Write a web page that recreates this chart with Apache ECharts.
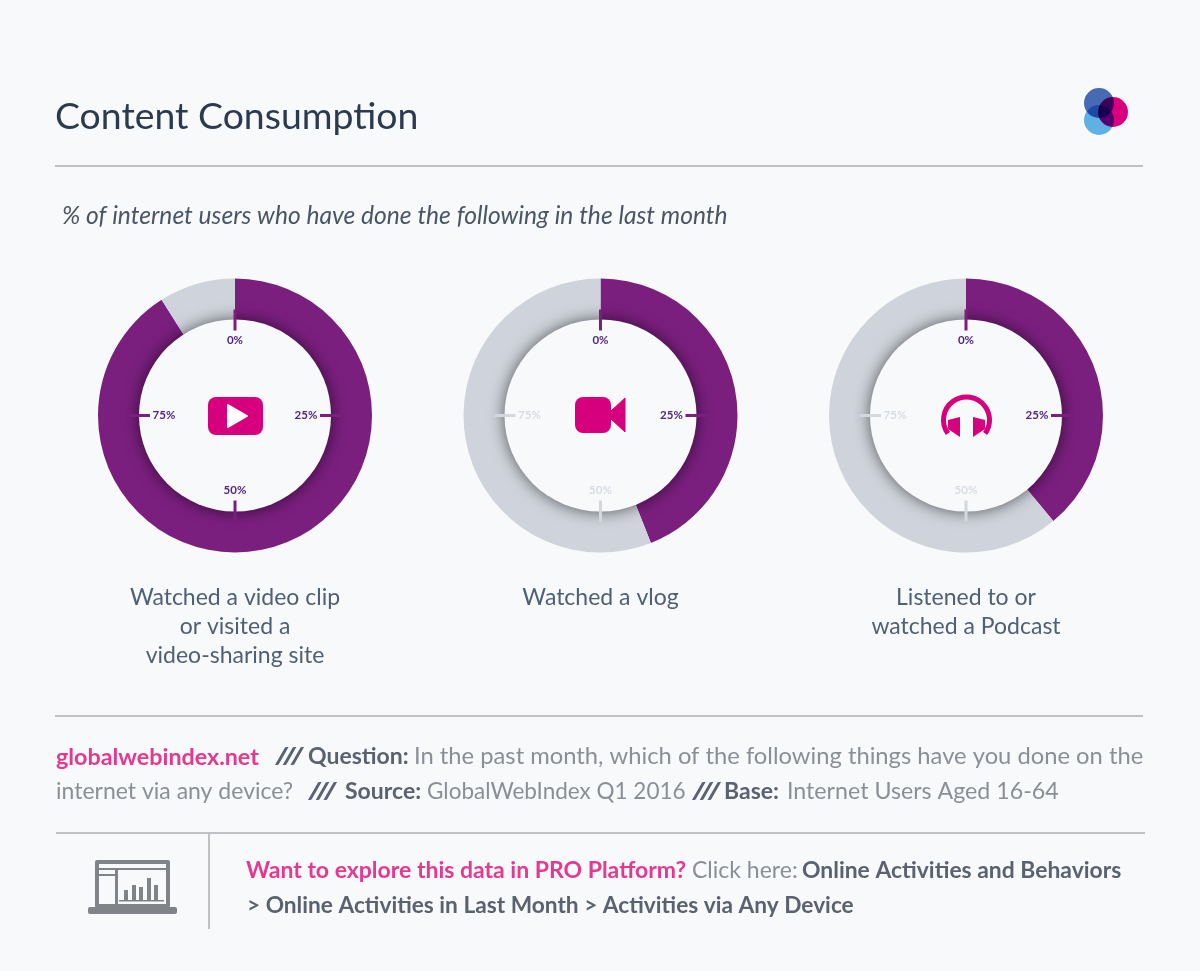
<!DOCTYPE html>
<html>
<head>
<meta charset="utf-8">
<style>
html,body{margin:0;padding:0;background:#f8f9fb}
#main{width:1200px;height:971px}
</style>
<script src="https://cdn.jsdelivr.net/npm/echarts@6/dist/echarts.min.js"></script>
</head>
<body>
<div id="main"></div>
<script>
var categories = [["Watched a video clip", "or visited a", "video-sharing site"], ["Watched a vlog"], ["Listened to or", "watched a Podcast"]];
var values = [91, 44, 39];
var tickValues = [0, 25, 50, 75];
var tickLabels = ["0%", "25%", "50%", "75%"];

var FONT = "Lato";
var BG = "#f8f9fb";
var PURPLE = "#7b1f7f";
var GREY = "#cfd4dc";
var PINK = "#d6007f";
var centers = [[235, 415.5], [600.5, 415.5], [966, 415.5]];
var R_IN = 96, R_OUT = 137;

var g = [];

function txt(x, y, s, size, color, weight, align, style, sx) {
  g.push({
    type: "text", x: x, y: y, z: 20, silent: true, scaleX: sx || 1,
    style: {
      text: s, fill: color, align: align || "left", verticalAlign: "middle",
      font: (style || "normal") + " " + (weight || "normal") + " " + size + "px " + FONT
    }
  });
}
function line(x1, y1, x2, y2, color, w, z) {
  g.push({ type: "line", z: z || 5, silent: true, shape: { x1: x1, y1: y1, x2: x2, y2: y2 }, style: { stroke: color, lineWidth: w } });
}
function rect(x, y, w, h, color, r) {
  g.push({ type: "rect", z: 20, silent: true, shape: { x: x, y: y, width: w, height: h, r: r || 0 }, style: { fill: color } });
}

// header
txt(55, 117, "Content Consumption", 37.4, "#2b3a4e");
line(55, 166, 1143, 166, "#bfc1c4", 2);
txt(62, 216, "% of internet users who have done the following in the last month", 24.6, "#4a5666", "normal", "left", "italic");

// logo
[[1099, 120, "#62b5e8"], [1113, 112, "#e0007f"], [1099, 103, "#4a6cb8"]].forEach(function (c) {
  g.push({ type: "circle", z: 20, silent: true, shape: { cx: c[0], cy: c[1], r: 15 }, style: { fill: c[2], blend: "multiply" } });
});

// centre disc, ticks and labels for each donut
centers.forEach(function (c, i) {
  g.push({
    type: "circle", z: 8, silent: true, shape: { cx: c[0], cy: c[1], r: R_IN },
    style: { fill: BG, shadowBlur: 16, shadowColor: "rgba(0,0,0,0.6)" }
  });
  tickValues.forEach(function (t, k) {
    var on = t <= values[i];
    var col = on ? PURPLE : "#d3d7de";
    var a = t / 100 * Math.PI * 2;
    var sx = Math.sin(a), cy = -Math.cos(a);
    line(c[0] + sx * 85, c[1] + cy * 85, c[0] + sx * 106, c[1] + cy * 106, col, 3, 9);
    txt(c[0] + sx * (k % 2 ? 71 : 0), c[1] + (k % 2 ? 0 : (k == 0 ? -75 : 75)), tickLabels[k], 11.5, on ? "#4f2683" : "#d8dce3", "bold", "center");
  });
  categories[i].forEach(function (s, n) {
    txt(c[0], 598 + n * 29, s, 23, "#4f6074", "normal", "center");
  });
});

// youtube icon
rect(208, 397, 55, 38, PINK, 8);
g.push({ type: "polygon", z: 21, silent: true, shape: { points: [[228, 405], [228, 427], [247, 416]] }, style: { fill: "#fff", lineJoin: "round", stroke: "#fff", lineWidth: 2 } });
// camera icon
rect(575, 397, 36, 36, PINK, 8);
g.push({ type: "polygon", z: 21, silent: true, shape: { points: [[611, 411], [625, 398], [625, 432], [611, 419]] }, style: { fill: PINK, lineJoin: "round", stroke: PINK, lineWidth: 1 } });
// headphones icon
g.push({ type: "arc", z: 21, silent: true, shape: { cx: 966.5, cy: 420, r: 23, startAngle: Math.PI * 0.8, endAngle: Math.PI * 2.2, clockwise: true }, style: { fill: "none", stroke: PINK, lineWidth: 5 } });
g.push({ type: "polygon", z: 21, silent: true, shape: { points: [[960, 417], [960, 437], [948, 429], [948, 420]] }, style: { fill: PINK } });
g.push({ type: "polygon", z: 21, silent: true, shape: { points: [[973, 417], [973, 437], [985, 429], [985, 420]] }, style: { fill: PINK } });

// footer
line(55, 716, 1143, 716, "#bfc1c4", 2);
var fg = "#8a8f96", fb = "#5a6270", fp = "#e5398f";
txt(56, 757, "globalwebindex.net", 23.3, fp, "bold");
txt(274, 757, "///", 23, fb, "bold", "left", "normal", 1.45);
txt(308, 757, "Question:", 23, fb, "bold");
txt(414, 757, "In the past month, which of the following things have you done on the", 23, fg, "normal", "left", "normal", 1.033);
txt(56, 792, "internet via any device?", 23, fg);
txt(307, 792, "///", 23, fb, "bold", "left", "normal", 1.45);
txt(345, 792, "Source:", 23, fb, "bold");
txt(427, 792, "GlobalWebIndex Q1 2016", 22.5, fg);
txt(691, 792, "///", 23, fb, "bold", "left", "normal", 1.45);
txt(724, 792, "Base:", 23, fb, "bold");
txt(787, 792, "Internet Users Aged 16-64", 23.2, fg);

line(56, 833, 1145, 833, "#bfc1c4", 2);
line(209, 833, 209, 929, "#bfc1c4", 2);
txt(246, 871, "Want to explore this data in PRO Platform?", 23, fp, "bold");
txt(692, 871, "Click here:", 23, fg);
txt(802, 871, "Online Activities and Behaviors", 22.9, fb, "bold");
txt(247, 906, "> Online Activities in Last Month > Activities via Any Device", 22.7, fb, "bold");

// laptop icon
var lc = "#808488";
rect(88, 907, 89, 7, lc, 2);
rect(95, 860, 75, 48, lc, 2);
rect(99, 864, 67, 4, BG);
rect(99, 870, 16, 4, BG);
rect(99, 876, 16, 28, BG);
rect(118, 870, 48, 34, BG);
rect(119, 900, 45, 1.5, lc);
[[124, 890], [132, 885], [139, 887], [147, 878], [154, 885]].forEach(function (b) {
  rect(b[0], b[1], 4, 900 - b[1], lc);
});

var chart = echarts.init(document.getElementById("main"));
chart.setOption({
  backgroundColor: BG,
  animation: false,
  graphic: g,
  series: values.map(function (v, i) {
    return {
      type: "pie", silent: true, center: centers[i], radius: [R_IN - 2, R_OUT], startAngle: 90, clockwise: true,
      label: { show: false }, labelLine: { show: false }, z: 2,
      data: [
        { value: v, itemStyle: { color: PURPLE } },
        { value: 100 - v, itemStyle: { color: GREY } }
      ]
    };
  })
});
</script>
</body>
</html>
